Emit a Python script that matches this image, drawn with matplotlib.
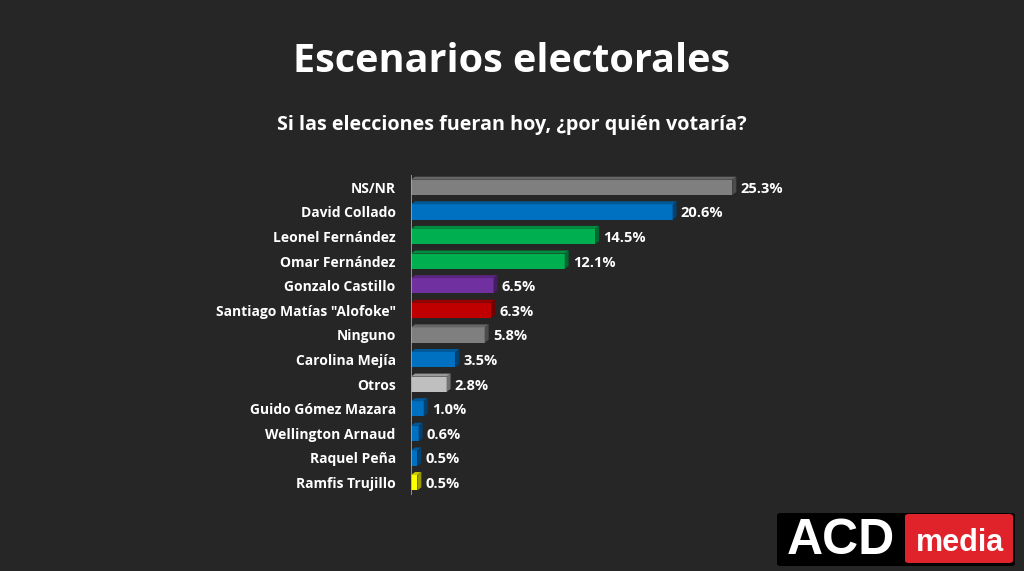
import matplotlib.pyplot as plt
from matplotlib.patches import Polygon, Rectangle, FancyBboxPatch
from matplotlib.colors import to_rgb

# chart data
candidates = [
    "NS/NR", "David Collado", "Leonel Fernández", "Omar Fernández",
    "Gonzalo Castillo", 'Santiago Matías "Alofoke"', "Ninguno",
    "Carolina Mejía", "Otros", "Guido Gómez Mazara", "Wellington Arnaud",
    "Raquel Peña", "Ramfis Trujillo",
]
votes = [25.3, 20.6, 14.5, 12.1, 6.5, 6.3, 5.8, 3.5, 2.8, 1.0, 0.6, 0.5, 0.5]
bar_colors = [
    "#7f7f7f", "#0070c0", "#00b050", "#00b050", "#7030a0", "#c00000",
    "#7f7f7f", "#0070c0", "#bfbfbf", "#0070c0", "#0070c0", "#0070c0", "#ffff00",
]

BG = "#262626"
FONT = ["Open Sans", "DejaVu Sans"]
plt.rcParams["font.family"] = FONT


def shade(color, f):
    r, g, b = to_rgb(color)
    return (r * f, g * f, b * f)


fig = plt.figure(figsize=(10.24, 5.71), dpi=100, facecolor=BG)

# axes placed so value 0 sits at x=411 px and rows span y=175..495 px
W, H = 1024, 571
left, right = 411, 800
top, bottom = 175, 495
ax = fig.add_axes([left / W, 1 - bottom / H, (right - left) / W, (bottom - top) / H])
ax.set_facecolor("none")
n = len(votes)
xmax = (right - left) / 12.7
ax.set_xlim(0, xmax)
ax.set_ylim(-0.5, n - 0.5)

dx = 4.0 / 12.7          # depth of the 3D face in data units
dy = 3.0 / 24.6
h = 0.62

for i, (name, v, c) in enumerate(zip(candidates, votes, bar_colors)):
    y = n - 1 - i
    y0, y1 = y - h / 2, y + h / 2
    ax.add_patch(Rectangle((0, y0), v, h, facecolor=c, edgecolor="none", zorder=3))
    ax.add_patch(Polygon([(0, y1), (v, y1), (v + dx, y1 + dy), (dx, y1 + dy)],
                         closed=True, facecolor=shade(c, 0.8), edgecolor="none", zorder=3))
    ax.add_patch(Polygon([(v, y0), (v + dx, y0 + dy), (v + dx, y1 + dy), (v, y1)],
                         closed=True, facecolor=shade(c, 0.6), edgecolor="none", zorder=3))
    ax.annotate(f"{v:.1f}%", (v + dx, y), xytext=(3, -1), textcoords="offset points",
                ha="left", va="center", color="white", fontsize=10.5, fontweight="bold")
    ax.annotate(name, (0, y), xytext=(-11, -1), textcoords="offset points",
                ha="right", va="center", color="white", fontsize=10, fontweight="bold")

ax.axvline(0, color="#a6a6a6", lw=1.2, zorder=4)
ax.set_xticks([])
ax.set_yticks([])
for s in ax.spines.values():
    s.set_visible(False)

fig.text(0.5, 1 - 62 / H, "Escenarios electorales", ha="center", va="center",
         color="white", fontsize=28.5, fontweight="bold")
fig.text(0.5, 1 - 125 / H, "Si las elecciones fueran hoy, ¿por quién votaría?",
         ha="center", va="center", color="white", fontsize=14.2, fontweight="bold")

# ACD media logo
fig.patches.append(FancyBboxPatch((777 / W, 1 - 566 / H), 238 / W, 53 / H,
                                  boxstyle="round,pad=0,rounding_size=0.004",
                                  transform=fig.transFigure, facecolor="black",
                                  edgecolor="none"))
fig.patches.append(FancyBboxPatch((905 / W, 1 - 563 / H), 108 / W, 49 / H,
                                  boxstyle="round,pad=0,rounding_size=0.004",
                                  transform=fig.transFigure, facecolor="#e0222b",
                                  edgecolor="none"))
fig.text(841 / W, 1 - 541 / H, "ACD", ha="center", va="center", color="white",
         fontsize=36, fontweight="bold", family=["Liberation Sans", "DejaVu Sans"])
fig.text(960 / W, 1 - 543 / H, "media", ha="center", va="center", color="white",
         fontsize=22, fontweight="bold", family=["Liberation Sans", "DejaVu Sans"])

fig.savefig("out.png", dpi=100, facecolor=BG)
